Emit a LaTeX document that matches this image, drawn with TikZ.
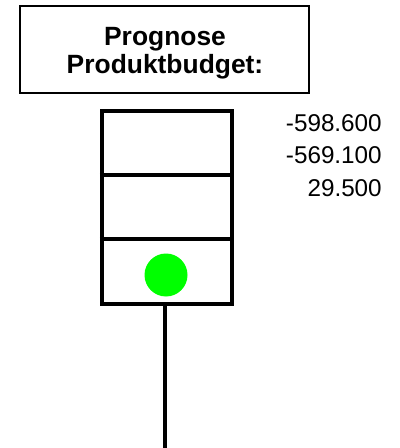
\documentclass[tikz,border=0pt]{standalone}
\usepackage{fontspec}
\setmainfont{Liberation Sans}
\usetikzlibrary{positioning}
\definecolor{lampgreen}{RGB}{0,255,0}
\tikzset{
	titlebox/.style={draw, line width=1.4pt, minimum width=216.75pt, minimum height=65.25pt},
	titletext/.style={align=center, inner sep=0pt, font=\fontsize{19.8}{21}\selectfont\bfseries},
	housing/.style={draw, line width=3.2pt, minimum width=97.5pt, minimum height=144.75pt},
	value/.style={anchor=base east, inner sep=0pt, font=\fontsize{18.2}{21}\selectfont}
}
\begin{document}
\begin{tikzpicture}[x=0.75pt, y=-0.75pt]
			\useasboundingbox (0,0) rectangle (399,448);
			% title
			\node[titlebox] (title) at (164.5,49.5) {};
			\node[titletext] (titletext) at (165,53) {Prognose\\Produktbudget:};

			% traffic light
			\node[housing] (light) at (167,207.5) {};
			\draw[line width=3.2pt] (light.west |- 0,175) -- (light.east |- 0,175)
					(light.west |- 0,239) -- (light.east |- 0,239);
			\node[circle, fill=lampgreen, minimum size=32.25pt, inner sep=0pt] (lamp) at (166,275) {};
			% pole
			\coordinate (foot) at (165,448);
			\draw[line width=3.2pt] (light.south -| foot) -- (foot);

			% values
			\draw	(382,132) node[value] (plan) {-598.600}
					(382,164) node[value] (prog) {-569.100}
					(382,197) node[value] (diff) {29.500};
		\end{tikzpicture}
\end{document}
